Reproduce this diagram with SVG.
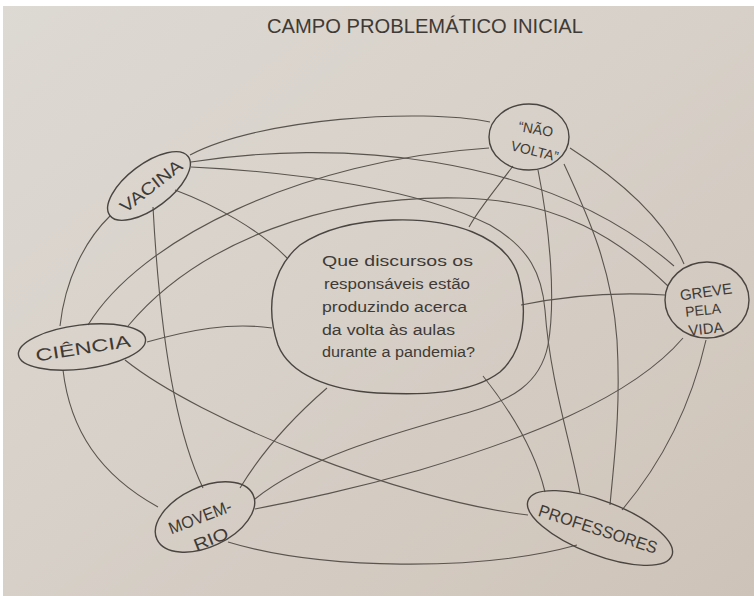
<svg xmlns="http://www.w3.org/2000/svg" width="754" height="596" viewBox="0 0 754 596">
<defs>
<linearGradient id="paper" x1="0" y1="0" x2="1" y2="1">
<stop offset="0" stop-color="#ddd9d3"/>
<stop offset="0.5" stop-color="#d7d0c8"/>
<stop offset="1" stop-color="#cec3b8"/>
</linearGradient>
<style>
.node{fill:none;stroke:#4a4540;stroke-width:1.4}
.edge{fill:none;stroke:#5a544e;stroke-width:1.1}
.lbl{font-family:"Liberation Sans",Arial,sans-serif;fill:#3f3a35}
.q{font-size:15.5px}
.n{font-size:17px}
</style>
</defs>
<rect width="754" height="596" fill="url(#paper)"/>
<rect x="0" y="0" width="754" height="6" fill="#ffffff"/>
<rect x="0" y="0" width="3" height="596" fill="#ffffff"/>

<text class="lbl" x="267" y="33" font-size="21" textLength="316" lengthAdjust="spacingAndGlyphs">CAMPO PROBLEMÁTICO INICIAL</text>

<g id="connectors">
<path class="edge" d="M190,155 C260,118 420,108 490,122"/>
<path class="edge" d="M191,162 C330,140 540,150 674,266"/>
<path class="edge" d="M191,167 C300,172 420,190 490,225 C530,248 542,275 545,310 C550,380 570,440 580,493"/>
<path class="edge" d="M175,190 C215,205 260,230 287,258"/>
<path class="edge" d="M153,207 C158,300 170,420 203,488"/>
<path class="edge" d="M110,216 C85,240 65,280 60,326"/>
<path class="edge" d="M513,166 C495,190 478,210 469,227"/>
<path class="edge" d="M538,170 C550,230 556,300 548,345 C540,385 510,400 470,412 C400,432 310,455 255,499"/>
<path class="edge" d="M564,164 C590,220 612,270 617,340 C621,410 614,460 610,505"/>
<path class="edge" d="M570,148 C620,180 665,220 684,264"/>
<path class="edge" d="M88,325 C140,240 300,160 489,148"/>
<path class="edge" d="M128,326 C200,240 330,195 460,198 C560,200 620,240 668,286"/>
<path class="edge" d="M147,342 C190,330 230,322 272,328"/>
<path class="edge" d="M125,360 C200,420 400,500 528,515"/>
<path class="edge" d="M63,370 C70,430 100,475 158,507"/>
<path class="edge" d="M521,305 C570,295 620,292 665,295"/>
<path class="edge" d="M327,388 C290,420 260,455 240,488"/>
<path class="edge" d="M483,376 C510,410 535,450 545,492"/>
<path class="edge" d="M683,338 C630,400 520,440 420,470 C350,490 300,500 255,509"/>
<path class="edge" d="M706,340 C690,410 660,465 622,510"/>
<path class="edge" d="M228,542 C320,570 480,572 577,545"/>
</g>

<g id="question">
<path class="node" d="M393,220 C450,218 505,235 518,275 C528,310 525,350 500,372 C470,395 420,395 377,393 C330,390 290,375 278,345 C266,310 270,270 300,245 C325,228 360,221 393,220 Z"/>
<text class="lbl q" x="322" y="266" textLength="151" lengthAdjust="spacingAndGlyphs">Que discursos os</text>
<text class="lbl q" x="324" y="289" textLength="146" lengthAdjust="spacingAndGlyphs">responsáveis estão</text>
<text class="lbl q" x="322" y="312" textLength="145" lengthAdjust="spacingAndGlyphs">produzindo acerca</text>
<text class="lbl q" x="322" y="335" textLength="133" lengthAdjust="spacingAndGlyphs">da volta às aulas</text>
<text class="lbl q" x="322" y="357" textLength="153" lengthAdjust="spacingAndGlyphs">durante a pandemia?</text>
</g>

<g id="vacina">
<ellipse class="node" cx="149" cy="186" rx="49" ry="22" transform="rotate(-37 149 186)"/>
<text class="lbl n" x="151" y="192" text-anchor="middle" textLength="74" lengthAdjust="spacingAndGlyphs" transform="rotate(-38 151 186)">VACINA</text>
</g>

<g id="nao-volta">
<ellipse class="node" cx="529" cy="137" rx="40" ry="33"/>
<text class="lbl" font-size="14" x="536" y="134" text-anchor="middle" transform="rotate(10 536 128)">“NÃO</text>
<text class="lbl" font-size="14" x="535" y="156" text-anchor="middle" transform="rotate(14 535 150)">VOLTA”</text>
</g>

<g id="greve">
<ellipse class="node" cx="707" cy="300" rx="42" ry="38"/>
<text class="lbl" font-size="15" x="706" y="297" text-anchor="middle" transform="rotate(-8 706 292)">GREVE</text>
<text class="lbl" font-size="14" x="703" y="315" text-anchor="middle" transform="rotate(-6 703 310)">PELA</text>
<text class="lbl" font-size="15" x="706" y="334" text-anchor="middle" transform="rotate(-6 706 329)">VIDA</text>
</g>

<g id="ciencia">
<ellipse class="node" cx="82" cy="347" rx="64" ry="22" transform="rotate(-7 82 347)"/>
<text class="lbl n" x="83" y="354" text-anchor="middle" textLength="96" lengthAdjust="spacingAndGlyphs" transform="rotate(-9 83 348)">CIÊNCIA</text>
</g>

<g id="movem-rio">
<ellipse class="node" cx="205" cy="517" rx="53" ry="30" transform="rotate(-25 205 517)"/>
<text class="lbl n" x="200" y="523" text-anchor="middle" textLength="66" lengthAdjust="spacingAndGlyphs" transform="rotate(-21 200 517)">MOVEM-</text>
<text class="lbl n" x="211" y="545" text-anchor="middle" textLength="36" lengthAdjust="spacingAndGlyphs" transform="rotate(-22 211 539)">RIO</text>
</g>

<g id="professores">
<ellipse class="node" cx="600" cy="528" rx="77" ry="27" transform="rotate(21 600 528)"/>
<text class="lbl n" x="598" y="535" text-anchor="middle" textLength="124" lengthAdjust="spacingAndGlyphs" transform="rotate(18 598 529)">PROFESSORES</text>
</g>
</svg>
